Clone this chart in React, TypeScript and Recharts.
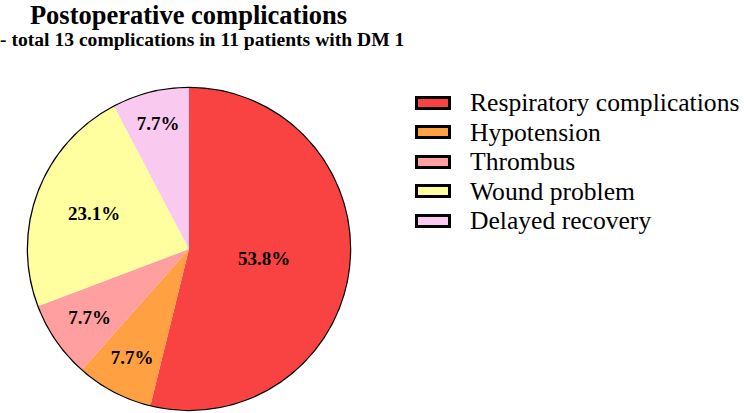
import React from 'react';
import { PieChart, Pie, Cell } from 'recharts';

const categories = [
  'Respiratory complications',
  'Hypotension',
  'Thrombus',
  'Wound problem',
  'Delayed recovery',
];
const counts = [7, 1, 1, 3, 1];
const COLORS = ['#F94343', '#FFA043', '#FF9F9F', '#FFFF9F', '#F9C9EF'];
// how far out each percent label sits, as a share of the radius
const LABEL_POS = [0.47, 0.76, 0.75, 0.63, 0.8];

const data = categories.map((name, i) => ({ name, value: counts[i] }));

const FONT = '"Liberation Serif", "Times New Roman", serif';
const RAD = Math.PI / 180;

const CX = 189;
const CY = 249;
const R = 161;

const renderLabel = (props: any) => {
  const { cx, cy, midAngle, outerRadius, percent, index } = props;
  const r = outerRadius * LABEL_POS[index];
  const x = cx + r * Math.cos(-midAngle * RAD);
  const y = cy + r * Math.sin(-midAngle * RAD);
  return (
    <text
      x={x}
      y={y}
      textAnchor="middle"
      dominantBaseline="central"
      fontFamily={FONT}
      fontWeight="bold"
      fontSize={19}
      fill="#000"
    >
      {(percent * 100).toFixed(1)}%
    </text>
  );
};

export default function App() {
  return (
    <div
      style={{
        position: 'fixed',
        left: 0,
        top: 0,
        width: 744,
        height: 413,
        background: '#fff',
        fontFamily: FONT,
      }}
    >
      <PieChart width={744} height={413} margin={{ top: 0, right: 0, bottom: 0, left: 0 }}>
        <Pie
          data={data}
          dataKey="value"
          nameKey="name"
          cx={CX}
          cy={CY}
          outerRadius={R}
          startAngle={90}
          endAngle={-270}
          stroke="none"
          labelLine={false}
          label={renderLabel}
          isAnimationActive={false}
        >
          {data.map((d, i) => (
            <Cell key={d.name} fill={COLORS[i]} />
          ))}
        </Pie>
        <circle cx={CX} cy={CY} r={R} fill="none" stroke="#000" strokeWidth={2.5} />
      </PieChart>
      <div
        style={{
          position: 'absolute',
          left: 0,
          width: 377,
          top: 0,
          textAlign: 'center',
          fontWeight: 'bold',
          fontSize: 26.5,
          lineHeight: '30px',
        }}
      >
        Postoperative complications
      </div>
      <div
        style={{
          position: 'absolute',
          left: 0,
          top: 29,
          fontWeight: 'bold',
          fontSize: 19.6,
          lineHeight: '22px',
          whiteSpace: 'nowrap',
        }}
      >
        - total 13 complications in 11 patients with DM 1
      </div>
      <div style={{ position: 'absolute', left: 415, top: 88 }}>
        {categories.map((name, i) => (
          <div key={name} style={{ display: 'flex', alignItems: 'center', height: 29.5 }}>
            <div
              style={{
                width: 30,
                height: 8,
                border: '3px solid #000',
                background: COLORS[i],
                marginRight: 19,
              }}
            />
            <span style={{ fontSize: 25.6, color: '#000', lineHeight: '29px', whiteSpace: 'nowrap' }}>
              {name}
            </span>
          </div>
        ))}
      </div>
    </div>
  );
}
